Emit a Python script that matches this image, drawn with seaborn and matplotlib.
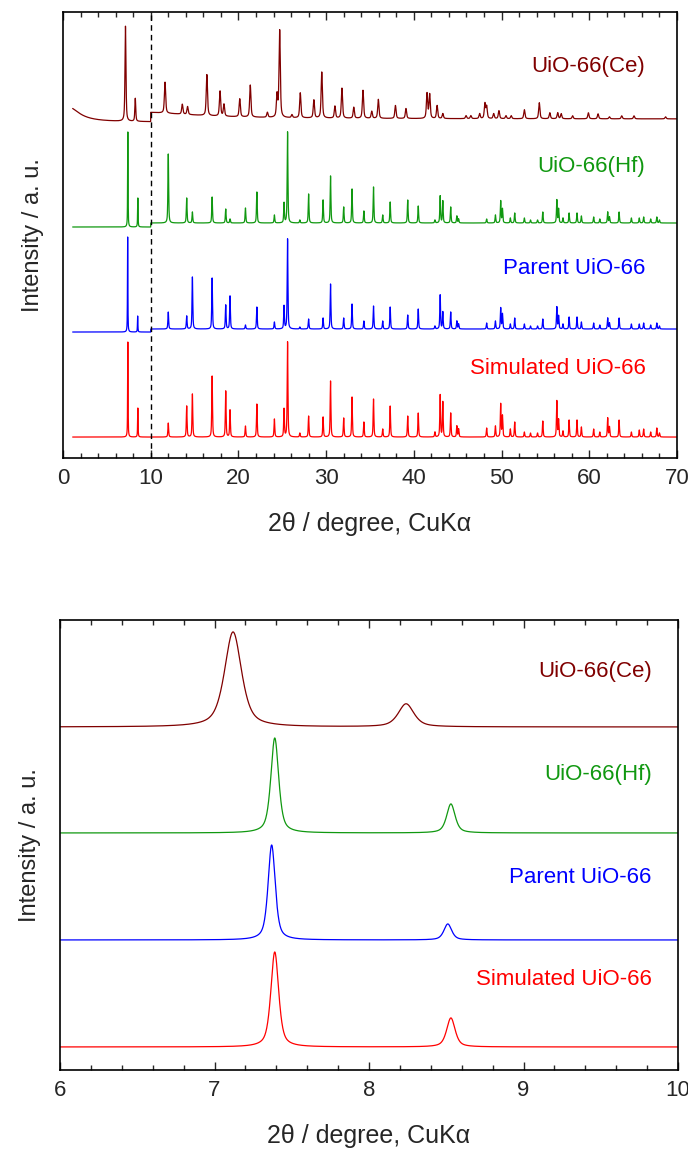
import numpy as np
import pandas as pd
import matplotlib
matplotlib.use("Agg")
import matplotlib.pyplot as plt
from matplotlib.ticker import MultipleLocator
import seaborn as sns

# Series names and colours
names = ['UiO-66(Ce)', 'UiO-66(Hf)', 'Parent UiO-66', 'Simulated UiO-66']
colors = ['#800000', '#109810', '#0000ff', '#ff0000']

# Low-angle reflections (111) and (200): position, intensity, fwhm
ce_low_pos = [7.12, 8.24]
ce_low_int = [95, 23]
ce_low_fwhm = [0.13, 0.12]
hf_low_pos = [7.39, 8.53]
hf_low_int = [95, 29]
hf_low_fwhm = [0.06, 0.065]
parent_low_pos = [7.37, 8.51]
parent_low_int = [95, 16]
parent_low_fwhm = [0.055, 0.06]
sim_low_pos = [7.39, 8.53]
sim_low_int = [95, 29]
sim_low_fwhm = [0.06, 0.065]

# Higher-angle reflections (2theta > 10), shared by Zr/Hf/simulated frameworks
zr_pos = [12.0, 14.1, 14.75, 17.0, 18.55, 19.04, 20.8, 22.1, 24.1, 25.2,
          25.6, 27.0, 28.0, 29.65, 30.5, 32.0, 32.95, 34.3, 35.4, 36.45,
          37.3, 39.3, 40.5, 42.4, 43.0, 43.3, 44.2, 44.9, 45.1, 48.3,
          49.3, 49.9, 50.1, 51.0, 51.5, 52.6, 53.3, 54.1, 54.7, 56.3,
          56.5, 57.0, 57.7, 58.6, 59.1, 60.5, 61.2, 62.1, 62.3, 63.4,
          64.8, 65.7, 66.2, 67.0, 67.7, 68.0]
sim_int = [14, 31, 43, 61, 46, 27, 11, 33, 18, 28,
           95, 4, 21, 20, 56, 19, 40, 15, 38, 8,
           31, 21, 24, 5, 42, 35, 24, 11, 8, 9,
           11, 33, 21, 8, 15, 5, 4, 4, 16, 36,
           17, 6, 17, 17, 10, 8, 5, 19, 10, 17,
           5, 7, 8, 5, 9, 4]
parent_int = [17, 13, 52, 51, 24, 33, 4, 22, 7, 23,
              90, 2, 10, 11, 45, 11, 25, 8, 23, 8,
              22, 14, 20, 3, 34, 17, 17, 8, 5, 6,
              8, 21, 15, 5, 11, 5, 3, 3, 10, 22,
              13, 5, 12, 12, 7, 6, 4, 11, 6, 11,
              5, 5, 6, 4, 6, 3]
hf_int = [69, 25, 11, 26, 14, 4, 15, 31, 8, 20,
          91, 3, 29, 23, 47, 16, 34, 12, 36, 8,
          21, 23, 17, 3, 27, 22, 16, 7, 4, 4,
          8, 22, 14, 5, 10, 5, 3, 3, 11, 23,
          14, 5, 10, 10, 7, 6, 4, 11, 6, 11,
          5, 5, 6, 4, 6, 3]

# Ce framework has its own (shifted) reflections
ce_pos = [11.63, 13.6, 14.2, 16.4, 17.9, 18.35, 20.15, 21.35, 23.3, 24.4,
          24.7, 26.1, 27.05, 28.6, 29.5, 31.0, 31.8, 33.15, 34.2, 35.2,
          35.95, 37.9, 39.1, 41.5, 41.8, 42.65, 43.3, 45.95, 46.5, 47.5,
          48.1, 48.3, 49.1, 49.7, 50.5, 51.1, 52.6, 54.3, 55.5, 56.4,
          56.8, 58.1, 59.9, 61.0, 62.3, 63.7, 65.1, 68.7]
ce_int = [31, 10, 8, 41, 25, 12, 18, 32, 5, 22,
          87, 3, 25, 18, 46, 12, 30, 11, 28, 7,
          19, 13, 10, 25, 24, 13, 5, 3, 3, 5,
          15, 12, 5, 8, 3, 3, 9, 16, 6, 6,
          5, 3, 6, 5, 2, 3, 3, 2]

# Ce amorphous background humps (position, height, fwhm)
ce_bg_low = [0.6, 15, 3.0]
ce_bg_high = [8.0, 7, 16.0]

# Vertical offsets (top panel: below / above the 10 degree break; bottom panel)
top_off_low = [336, 231, 126, 21]
top_off_high = [339, 235, 129, 21]
zoom_off = [343, 237, 130, 23]


def profile(x, pos, height, fwhm, eta=0.6):
    y = np.zeros_like(x)
    for p, h, w in zip(pos, height, np.broadcast_to(fwhm, len(pos))):
        d = (x - p) / (w / 2)
        y += h * (eta / (1 + d**2) + (1 - eta) * np.exp(-np.log(2) * d**2))
    return y


low_peaks = [(ce_low_pos, ce_low_int, ce_low_fwhm),
             (hf_low_pos, hf_low_int, hf_low_fwhm),
             (parent_low_pos, parent_low_int, parent_low_fwhm),
             (sim_low_pos, sim_low_int, sim_low_fwhm)]
high_peaks = [(ce_pos, ce_int, 0.17),
              (zr_pos, hf_int, 0.1),
              (zr_pos, parent_int, 0.1),
              (zr_pos, sim_int, 0.1)]

x_low = np.arange(1.1, 10.0, 0.01)
x_high = np.arange(10.0, 70.001, 0.01)
x_zoom = np.arange(6.0, 10.0001, 0.002)

sns.set_style("ticks")
plt.rcParams['font.family'] = ['Liberation Sans', 'DejaVu Sans']
plt.rcParams['axes.linewidth'] = 1.2

fig = plt.figure(figsize=(6.88, 11.5), dpi=100)
ax1 = fig.add_axes([0.0916, 0.6017, 0.8924, 0.3879])
ax2 = fig.add_axes([0.0872, 0.0696, 0.8983, 0.3913])

# Top panel: full pattern
for i in range(4):
    y_low = top_off_low[i] + profile(x_low, *low_peaks[i])
    y_high = top_off_high[i] + profile(x_high, *high_peaks[i])
    if i == 0:
        y_low += profile(x_low, [ce_bg_low[0]], [ce_bg_low[1]], ce_bg_low[2], eta=1)
        y_high += profile(x_high, [ce_bg_high[0]], [ce_bg_high[1]], ce_bg_high[2], eta=1)
    df = pd.DataFrame({'x': np.concatenate([x_low, x_high]),
                       'y': np.concatenate([y_low, y_high])})
    sns.lineplot(data=df, x='x', y='y', color=colors[i], linewidth=0.9,
                 estimator=None, sort=False, ax=ax1)

ax1.axvline(10, color='k', linestyle=(0, (4, 3)), linewidth=1)
label_y_top = [391, 291, 190, 90]
for i in range(4):
    ax1.text(66.4, label_y_top[i], names[i], color=colors[i], fontsize=16,
             ha='right', va='center')
ax1.set_xlim(0, 70)
ax1.set_ylim(0, 446)
ax1.xaxis.set_major_locator(MultipleLocator(10))
ax1.xaxis.set_minor_locator(MultipleLocator(2))

# Bottom panel: low-angle zoom
for i in range(4):
    y = zoom_off[i] + profile(x_zoom, *low_peaks[i])
    df = pd.DataFrame({'x': x_zoom, 'y': y})
    sns.lineplot(data=df, x='x', y='y', color=colors[i], linewidth=0.9,
                 estimator=None, sort=False, ax=ax2)

label_y_zoom = [398, 295, 192, 90]
for i in range(4):
    ax2.text(9.83, label_y_zoom[i], names[i], color=colors[i], fontsize=16,
             ha='right', va='center')
ax2.set_xlim(6, 10)
ax2.set_ylim(0, 450)
ax2.xaxis.set_major_locator(MultipleLocator(1))
ax2.xaxis.set_minor_locator(MultipleLocator(0.2))

for ax in (ax1, ax2):
    for s in ax.spines.values():
        s.set_visible(True)
        s.set_color('black')
    ax.set_yticks([])
    ax.tick_params(which='both', direction='in', top=True, bottom=True,
                   left=False, right=False, width=1, labelsize=16, pad=7)
    ax.tick_params(which='major', length=6)
    ax.tick_params(which='minor', length=3.5)
    ax.set_xlabel('2θ / degree, CuKα', fontsize=18, labelpad=17)
    ax.set_ylabel('Intensity / a. u.', fontsize=17, labelpad=14)

fig.savefig('out.png', dpi=100)
